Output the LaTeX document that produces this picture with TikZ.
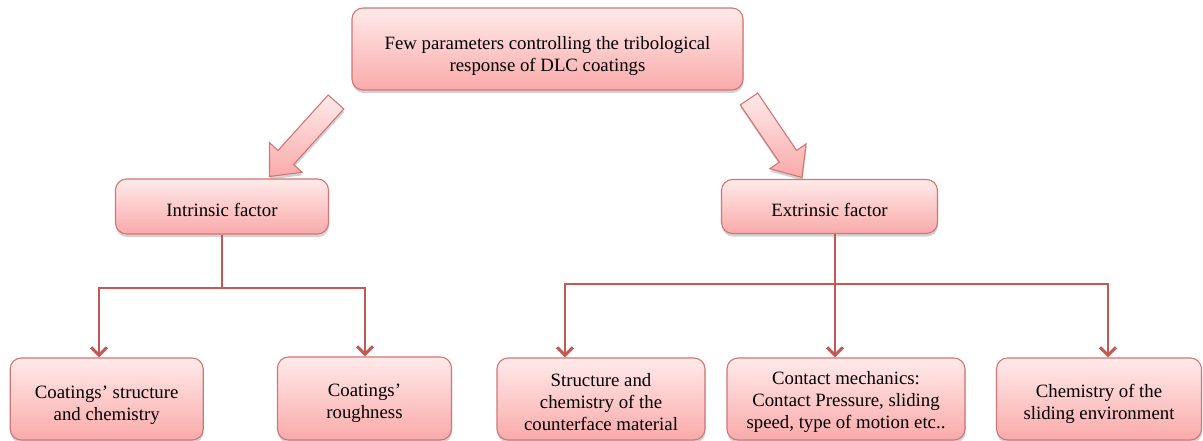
\documentclass[tikz,border=0pt]{standalone}
\usepackage{fontspec}
\setmainfont{Liberation Serif}
\usetikzlibrary{arrows.meta,shadows,calc}
\definecolor{boxtop}{RGB}{255,234,234}
\definecolor{boxbot}{RGB}{250,170,170}
\definecolor{boxline}{RGB}{208,118,116}
\definecolor{connc}{RGB}{198,88,84}
\begin{document}
\begin{tikzpicture}[x=1pt,y=-1pt,
  pbox/.style={rounded corners=11pt, draw=boxline, line width=1.1pt,
    top color=boxtop, bottom color=boxbot,
    drop shadow={shadow xshift=0.5pt, shadow yshift=-3pt, opacity=0.25, fill=black!70},
    inner sep=0pt},
  ptext/.style={align=center, inner sep=0pt, font=\fontsize{18.8}{21.8}\selectfont},
  conn/.style={draw=connc, line width=2pt},
  carrow/.style={conn, -{Straight Barb[length=8pt,width=16pt,line width=3pt]}},
  bigarrow/.style={draw=boxline, line width=1.1pt, line join=miter,
    top color=boxtop, bottom color=boxbot,
    drop shadow={shadow xshift=0.5pt, shadow yshift=-3pt, opacity=0.25, fill=black!70}}
]
\useasboundingbox (0,0) rectangle (1203,441);

% big arrows
\draw[bigarrow] (328.2,95) -- (278,150.5) -- (269.5,142.7) -- (269.5,176.5) -- (302.1,172.3) -- (293.6,164.5) -- (343.8,109) -- cycle;
\draw[bigarrow] (757.7,93.1) -- (796.6,150.4) -- (806.1,143.9) -- (802,177.5) -- (769.8,168.7) -- (779.3,162.2) -- (740.3,104.9) -- cycle;

% boxes
\node[pbox, minimum width=391pt, minimum height=82pt] (top) at (547.5,49) {};
\node[ptext] (topt) at ($(top)+(0,7)$) {Few parameters controlling the tribological\\response of DLC coatings};
\node[pbox, minimum width=213pt, minimum height=55pt] (intr) at (222,206.5) {};
\node[ptext] (intrt) at ($(intr)+(0,3)$) {Intrinsic factor};
\node[pbox, minimum width=216pt, minimum height=54pt] (extr) at (829.5,206.5) {};
\node[ptext] (extrt) at ($(extr)+(0,3)$) {Extrinsic factor};

\node[pbox, minimum width=193pt, minimum height=82pt] (b1) at (106.7,399) {};
\node[ptext] (b1t) at ($(b1)+(0,6)$) {Coatings' structure\\and chemistry};
\node[pbox, minimum width=174pt, minimum height=83pt] (b2) at (364.5,398.5) {};
\node[ptext] (b2t) at ($(b2)+(0,4.5)$) {Coatings'\\roughness};
\node[pbox, minimum width=208pt, minimum height=82pt] (b3) at (601,399) {};
\node[ptext] (b3t) at ($(b3)+(0,3)$) {Structure and\\chemistry of the\\counterface material};
\node[pbox, minimum width=238pt, minimum height=82pt] (b4) at (846,399) {};
\node[ptext] (b4t) at ($(b4)+(0,3)$) {Contact mechanics:\\Contact Pressure, sliding\\speed, type of motion etc..};
\node[pbox, minimum width=205pt, minimum height=82pt] (b5) at (1099,399) {};
\node[ptext] (b5t) at ($(b5)+(0,5)$) {Chemistry of the\\sliding environment};

% connectors - intrinsic
\coordinate (il) at (99,288);
\coordinate (ir) at (365,288);
\draw[conn] (intr.south) -- (intr.south |- il);
\draw[conn, line cap=rect] (il) -- (ir);
\draw[carrow] (il) -- (il |- b1.north);
\draw[carrow] (ir) -- (ir |- b2.north);

% connectors - extrinsic
\coordinate (em) at (835,284);
\coordinate (el) at (565,284);
\coordinate (er) at (1108,284);
\draw[conn] (em |- extr.south) -- (em);
\draw[conn, line cap=rect] (el) -- (er);
\draw[carrow] (el) -- (el |- b3.north);
\draw[carrow] (em) -- (em |- b4.north);
\draw[carrow] (er) -- (er |- b5.north);
\end{tikzpicture}
\end{document}
